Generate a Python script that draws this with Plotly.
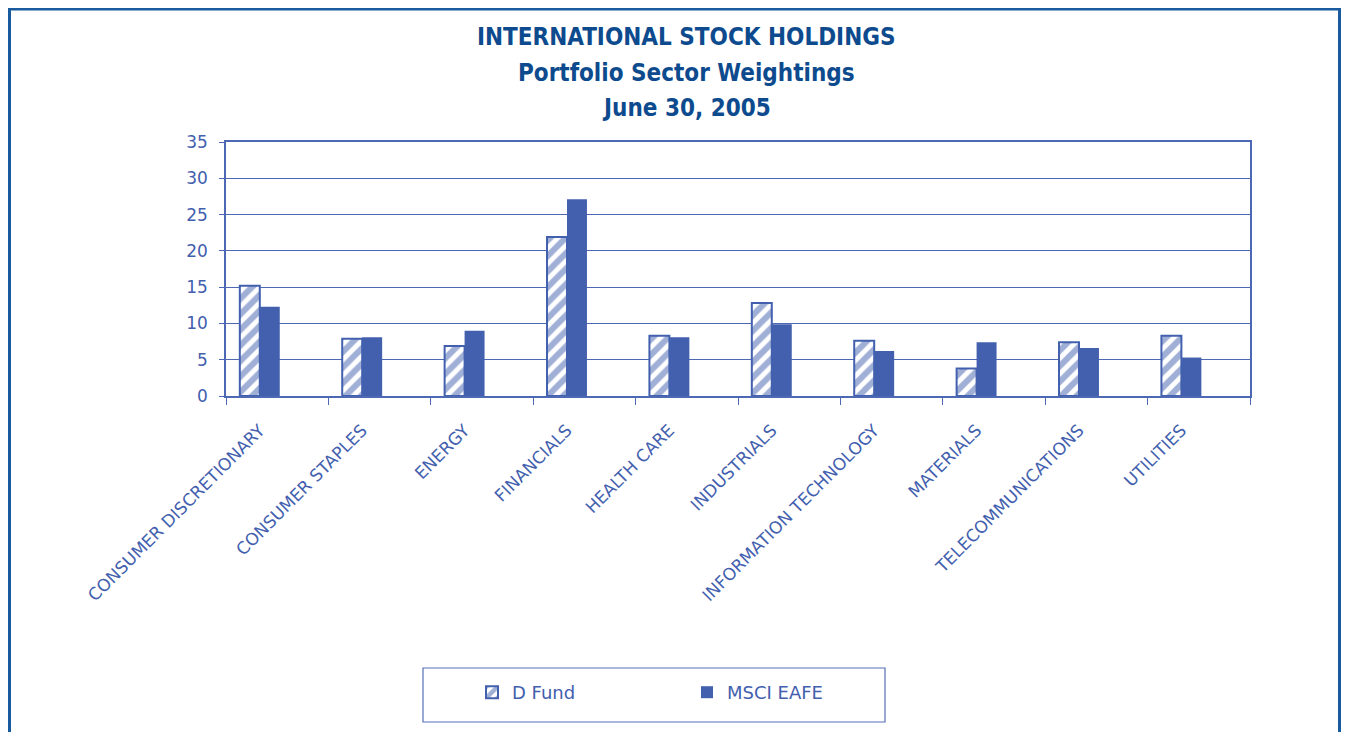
import plotly.graph_objects as go

categories = ["CONSUMER DISCRETIONARY", "CONSUMER STAPLES", "ENERGY", "FINANCIALS",
              "HEALTH CARE", "INDUSTRIALS", "INFORMATION TECHNOLOGY", "MATERIALS",
              "TELECOMMUNICATIONS", "UTILITIES"]
d_fund = [15.2, 7.9, 6.9, 21.9, 8.3, 12.8, 7.6, 3.8, 7.4, 8.3]
msci_eafe = [12.3, 8.1, 9.0, 27.1, 8.1, 9.9, 6.2, 7.4, 6.6, 5.3]
title_lines = ["INTERNATIONAL STOCK HOLDINGS", "Portfolio Sector Weightings", "June 30, 2005"]

BLUE = "#4260AE"
GRID = "#4E69B4"
TITLE = "#0D4B8E"
FRAME = "#1A5A9E"
FONT = "DejaVu Sans"
FONT_C = "DejaVu Sans Condensed"

OFF = 8  # page body offset
W, H = 1350 - 2 * OFF, 740 - 2 * OFF
# plot area in reference page coordinates
PL, PR, PT, PB = 226, 1250, 142, 396
L, T = PL - OFF, PT - OFF
R, B = W - (PR - OFF), H - (PB - OFF)
pw, ph = PR - PL, PB - PT

def px(x):
    return (x - PL) / pw

def py(y):
    return (PB - y) / ph

n = len(categories)
pos = list(range(n))
# category boundaries sit 1/3 left of each bar group centre
shift = 0.33
xr = [-shift, n - shift]
boundaries = [k - shift for k in range(n + 1)]

fig = go.Figure()
fig.add_trace(go.Bar(
    x=pos, y=d_fund, name="D Fund",
    marker=dict(color="white", line=dict(color=BLUE, width=2),
                pattern=dict(shape="/", fgcolor=BLUE, bgcolor="white", size=11, solidity=0.55)),
))
fig.add_trace(go.Bar(
    x=pos, y=msci_eafe, name="MSCI EAFE",
    marker=dict(color=BLUE, line=dict(color=BLUE, width=0)),
))
# invisible trace to carry boundary tick axis
fig.add_trace(go.Scatter(x=xr, y=[0, 0], xaxis="x2", mode="lines", line=dict(width=0),
                         showlegend=False, hoverinfo="skip"))

annotations = []
for txt, yy in zip(title_lines, [37, 73, 108]):
    annotations.append(dict(text="<b>%s</b>" % txt, x=px(686), y=py(yy), xref="paper", yref="paper",
                            xanchor="center", yanchor="middle", showarrow=False,
                            font=dict(family=FONT_C, size=24, color=TITLE)))

shapes = [
    dict(type="rect", xref="paper", yref="paper", x0=px(9.5), x1=px(1339.5), y0=py(9), y1=py(800),
         line=dict(color=FRAME, width=3), fillcolor="rgba(0,0,0,0)", layer="below"),
    dict(type="rect", xref="paper", yref="paper", x0=px(423), x1=px(885), y0=py(668), y1=py(722),
         line=dict(color="#5670B8", width=1.2), fillcolor="rgba(0,0,0,0)"),
]

fig.update_layout(
    width=W, height=H,
    margin=dict(l=L, r=R, t=T, b=B, autoexpand=False, pad=0),
    paper_bgcolor="white", plot_bgcolor="white",
    barmode="group", bargap=0.61, bargroupgap=0,
    font=dict(family=FONT, color=BLUE, size=16),
    annotations=annotations, shapes=shapes,
    showlegend=True,
    legend=dict(orientation="h", x=px(472), y=py(674), xanchor="left", yanchor="top",
                font=dict(family=FONT, size=18, color=BLUE), entrywidth=170, entrywidthmode="pixels",
                bgcolor="rgba(0,0,0,0)", borderwidth=0, traceorder="normal"),
    xaxis=dict(range=xr, tickmode="array", tickvals=pos, ticktext=categories, tickangle=-45,
               showline=True, mirror=True, linecolor=GRID, linewidth=1.5, ticks="",
               ticklabelstandoff=16,
               tickfont=dict(family=FONT, size=17, color=BLUE), showgrid=False, zeroline=False),
    xaxis2=dict(range=xr, overlaying="x", side="bottom", tickmode="array", tickvals=boundaries,
                showticklabels=False, ticks="outside", ticklen=8, tickcolor=GRID, tickwidth=1,
                showgrid=False, zeroline=False, showline=False),
    yaxis=dict(range=[0, 35], dtick=5, showline=True, mirror=True, linecolor=GRID, linewidth=1.5,
               ticks="outside", ticklen=5, tickcolor=GRID, showgrid=True, gridcolor=GRID, gridwidth=1,
               ticklabelstandoff=8,
               tickfont=dict(family=FONT, size=17, color=BLUE), zeroline=False),
)

fig.write_html("out.html")
